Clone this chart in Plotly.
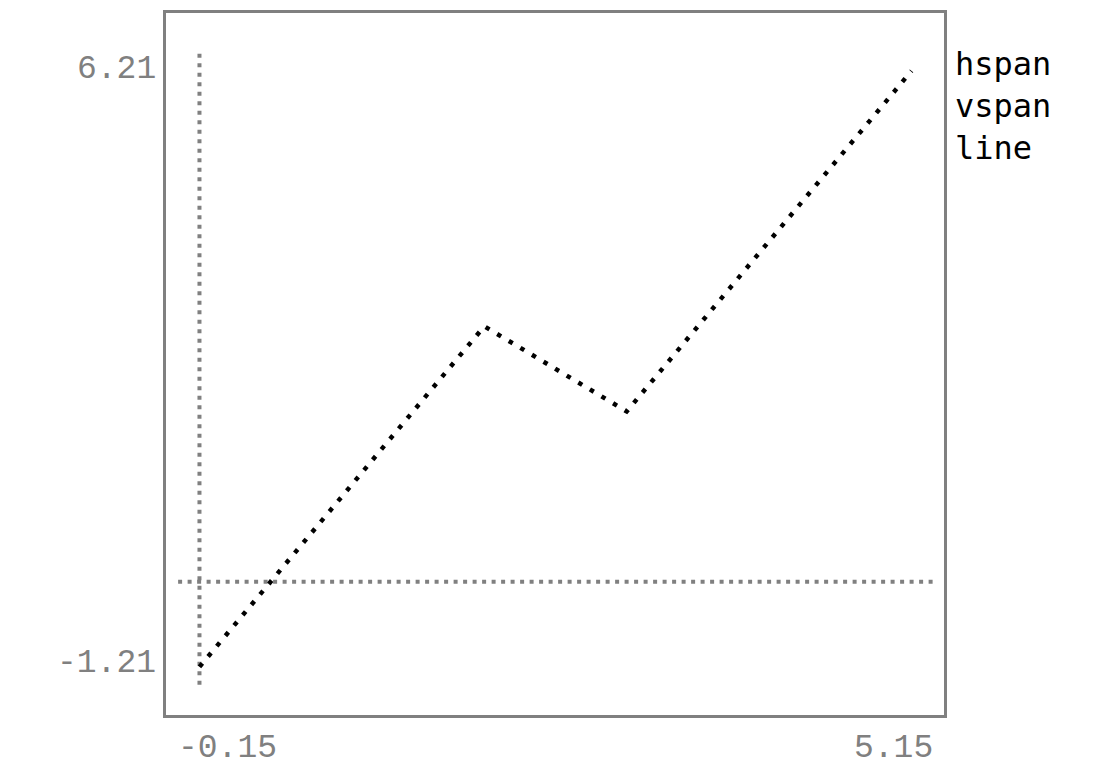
import plotly.graph_objects as go

# data
line_x = [0, 1, 2, 3, 4, 5]
line_y = [-1, 1, 3, 2, 4, 6]
hspan_y = 0
vspan_x = 0
legend_labels = ["hspan", "vspan", "line"]

# limits padded by 3% like the labels show
xmin, xmax = min(line_x), max(line_x)
ymin, ymax = min(line_y), max(line_y)
xpad = 0.03 * (xmax - xmin)
ypad = 0.03 * (ymax - ymin)
xlo, xhi = xmin - xpad, xmax + xpad
ylo, yhi = ymin - ypad, ymax + ypad

GRAY = "#808080"
TICKFONT = dict(family="Liberation Mono", size=33, color=GRAY)
LEGFONT = dict(family="DejaVu Sans Mono", size=32, color="black")

fig = go.Figure()
fig.add_trace(go.Scatter(
    x=[xlo, xhi], y=[hspan_y, hspan_y], mode="lines",
    line=dict(color=GRAY, width=4, dash="4px,5.5px"), hoverinfo="skip",
))
fig.add_trace(go.Scatter(
    x=[vspan_x, vspan_x], y=[ylo, yhi], mode="lines",
    line=dict(color=GRAY, width=4, dash="4px,5.5px"), hoverinfo="skip",
))
fig.add_trace(go.Scatter(
    x=line_x, y=line_y, mode="lines",
    line=dict(color="black", width=4.5, dash="4.5px,9px"),
))

# tick labels at the padded limits
fig.add_annotation(x=0, xref="paper", xanchor="right", xshift=-8,
                   y=yhi, yref="y", yanchor="middle", yshift=-16,
                   text=f"{yhi:.2f}", showarrow=False, font=TICKFONT)
fig.add_annotation(x=0, xref="paper", xanchor="right", xshift=-8,
                   y=ylo, yref="y", yanchor="middle", yshift=21,
                   text=f"{ylo:.2f}", showarrow=False, font=TICKFONT)
fig.add_annotation(x=xlo, xref="x", xanchor="left", xshift=-2,
                   y=0, yref="paper", yanchor="middle", yshift=-33,
                   text=f"{xlo:.2f}", showarrow=False, font=TICKFONT)
fig.add_annotation(x=xhi, xref="x", xanchor="right", xshift=2,
                   y=0, yref="paper", yanchor="middle", yshift=-33,
                   text=f"{xhi:.2f}", showarrow=False, font=TICKFONT)

# legend as plain text, no symbols
for i, lab in enumerate(legend_labels):
    fig.add_annotation(x=1, xref="paper", xanchor="left", xshift=9,
                       y=1, yref="paper", yanchor="middle", yshift=-51 - 42 * i,
                       text=lab, showarrow=False, font=LEGFONT)

axis = dict(showgrid=False, zeroline=False, showticklabels=False,
            showline=True, mirror=True, linecolor=GRAY, linewidth=2.5, ticks="")
fig.update_layout(
    width=1102, height=760,
    margin=dict(l=158, r=166, t=2, b=53),
    plot_bgcolor="white", paper_bgcolor="white",
    showlegend=False,
    xaxis=dict(axis, range=[xlo - 0.085, xhi + 0.078]),
    yaxis=dict(axis, range=[ylo - 0.356, yhi + 0.47]),
)

fig.write_html("out.html")
